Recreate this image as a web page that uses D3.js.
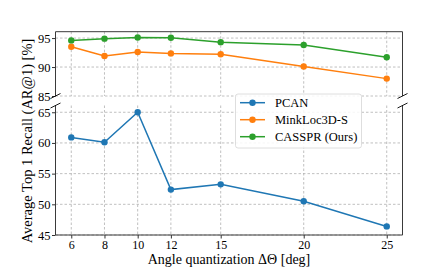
<!DOCTYPE html>
<html><head><meta charset="utf-8">
<script src="https://cdn.jsdelivr.net/npm/d3@7"></script>
<style>body{margin:0;background:#fff}svg{display:block}text{font-family:"Liberation Serif","DejaVu Serif",serif}</style>
</head><body>
<svg id="c" width="447" height="269"></svg>
<script>
const angles = [6, 8, 10, 12, 15, 20, 25];
const pcan = [60.9, 60.1, 65.0, 52.4, 53.25, 50.5, 46.4];
const minkloc = [93.5, 91.9, 92.6, 92.35, 92.2, 90.1, 88.0];
const casspr = [94.6, 94.9, 95.1, 95.05, 94.3, 93.8, 91.7];
const seriesNames = ["PCAN", "MinkLoc3D-S", "CASSPR (Ours)"];
const seriesColors = ["#1f77b4", "#ff7f0e", "#2ca02c"];
const topTicks = [85, 90, 95];
const bottomTicks = [45, 50, 55, 60, 65];

const svg = d3.select("#c");
const L = 55.5, R = 402.5;
const topY0 = 31.7, topY1 = 96;
const botY0 = 105.5, botY1 = 235;

const x = d3.scaleLinear().domain([5.05, 25.95]).range([L, R]);
const yTop = d3.scaleLinear().domain([85, 96.1]).range([topY1, topY0]);
const yBot = d3.scaleLinear().domain([45, 66.1]).range([botY1, botY0]);

const gridStyle = g => g.attr("stroke", "#b0b0b0").attr("stroke-width", 0.8).attr("stroke-dasharray", "2.5,2");

function panel(y, y0, y1, ticks, showX) {
  const g = svg.append("g");
  g.selectAll(".gx").data(angles).enter().append("line")
    .attr("x1", d => x(d)).attr("x2", d => x(d)).attr("y1", y0).attr("y2", y1).call(gridStyle);
  g.selectAll(".gy").data(ticks).enter().append("line")
    .attr("x1", L).attr("x2", R).attr("y1", d => y(d)).attr("y2", d => y(d)).call(gridStyle);
  const ya = g.append("g").attr("transform", `translate(${L},0)`)
    .call(d3.axisLeft(y).tickValues(ticks).tickSize(3.5).tickPadding(1.5));
  ya.select(".domain").remove();
  ya.selectAll("text").attr("font-size", 12.5).attr("fill", "#000");
  ya.selectAll("line").attr("stroke", "#333");
  if (showX) {
    const xa = g.append("g").attr("transform", `translate(0,${y1})`)
      .call(d3.axisBottom(x).tickValues(angles).tickSize(3.5).tickPadding(1.5).tickFormat(d3.format("d")));
    xa.select(".domain").remove();
    xa.selectAll("text").attr("font-size", 12).attr("fill", "#000");
    xa.selectAll("line").attr("stroke", "#333");
  }
  return g;
}

const gTop = panel(yTop, topY0, topY1, topTicks, false);
const gBot = panel(yBot, botY0, botY1, bottomTicks, true);

const spine = "#3a3a3a";
svg.append("path").attr("d", `M${L},${topY1}V${topY0}H${R}V${topY1}`).attr("fill", "none").attr("stroke", spine).attr("stroke-width", 1);
svg.append("path").attr("d", `M${L},${botY0}V${botY1}H${R}V${botY0}`).attr("fill", "none").attr("stroke", spine).attr("stroke-width", 1);

[L, R].forEach(px => {
  [topY1, botY0].forEach(py => {
    svg.append("line").attr("x1", px - 5).attr("y1", py + 2.5).attr("x2", px + 5).attr("y2", py - 2.5)
      .attr("stroke", "#000").attr("stroke-width", 0.9);
  });
});

function drawSeries(g, y, vals, color) {
  const line = d3.line().x((d, i) => x(angles[i])).y(d => y(d));
  g.append("path").datum(vals).attr("d", line).attr("fill", "none").attr("stroke", color).attr("stroke-width", 1.5);
  g.selectAll(null).data(vals).enter().append("circle")
    .attr("cx", (d, i) => x(angles[i])).attr("cy", d => y(d)).attr("r", 3.2).attr("fill", color);
}
drawSeries(gBot, yBot, pcan, seriesColors[0]);
drawSeries(gTop, yTop, minkloc, seriesColors[1]);
drawSeries(gTop, yTop, casspr, seriesColors[2]);

const lg = svg.append("g");
lg.append("rect").attr("x", 235.5).attr("y", 94).attr("width", 126).attr("height", 54).attr("rx", 2.5)
  .attr("fill", "#fff").attr("fill-opacity", 0.85).attr("stroke", "#d6d6d6").attr("stroke-width", 0.8);
seriesNames.forEach((n, i) => {
  const yy = 102.7 + i * 17;
  lg.append("line").attr("x1", 240).attr("x2", 265).attr("y1", yy).attr("y2", yy).attr("stroke", seriesColors[i]).attr("stroke-width", 1.5);
  lg.append("circle").attr("cx", 252.5).attr("cy", yy).attr("r", 3.2).attr("fill", seriesColors[i]);
  lg.append("text").attr("x", 275).attr("y", yy + 4).attr("font-size", 12.5).attr("fill", "#000").text(n);
});

svg.append("text").attr("x", 229).attr("y", 264).attr("text-anchor", "middle").attr("font-size", 14).attr("fill", "#000")
  .text("Angle quantization ΔΘ [deg]");
svg.append("text").attr("transform", "translate(32,141) rotate(-90)").attr("text-anchor", "middle").attr("font-size", 14.5).attr("fill", "#000")
  .text("Average Top 1 Recall (AR@1) [%]");
</script>
</body></html>
